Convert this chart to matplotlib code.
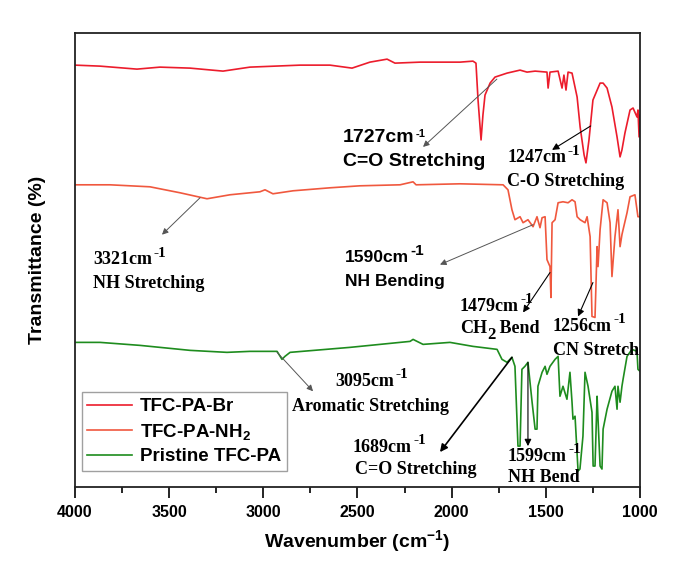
import matplotlib
matplotlib.use("Agg")
import matplotlib.pyplot as plt

plt.rcParams['font.family'] = 'Liberation Sans'
plt.rcParams['mathtext.fontset'] = 'custom'
plt.rcParams['mathtext.rm'] = 'Liberation Sans:bold'
plt.rcParams['mathtext.default'] = 'rm'

# spectra (wavenumber, stacked transmittance in a.u.)
wn_br = [4000, 3867, 3671, 3549, 3389, 3214, 3071, 2805, 2646, 2529, 2434, 2343, 2301, 2168,
         1956, 1887, 1871, 1860, 1844, 1834, 1823, 1796, 1770, 1706, 1637, 1600, 1557, 1494,
         1488, 1478, 1435, 1414, 1404, 1393, 1382, 1361, 1334, 1318, 1297, 1287, 1271, 1250,
         1212, 1196, 1175, 1149, 1122, 1106, 1096, 1080, 1053, 1037, 1016, 1011, 1005, 1000]
t_br = [423, 422, 419, 421, 420, 417, 421, 423, 423, 420, 426, 429, 425, 426,
        426, 427, 425, 388, 348, 373, 393, 405, 411, 415, 418, 416, 417, 416,
        400, 416, 417, 400, 413, 398, 416, 415, 391, 361, 333, 325, 348, 388,
        405, 405, 400, 381, 351, 331, 338, 355, 378, 380, 371, 378, 351, 373]

wn_nh2 = [4000, 3814, 3602, 3442, 3299, 3177, 3018, 2991, 2949, 2842, 2646, 2487, 2274, 2205,
          2189, 1956, 1727, 1701, 1680, 1664, 1637, 1621, 1595, 1568, 1547, 1531, 1520, 1504,
          1494, 1478, 1473, 1467, 1451, 1435, 1409, 1382, 1361, 1345, 1334, 1318, 1292, 1281,
          1265, 1255, 1239, 1228, 1223, 1212, 1196, 1175, 1159, 1149, 1133, 1117, 1106, 1096,
          1090, 1069, 1053, 1027, 1011, 1000]
t_nh2 = [303, 303, 301, 295, 289, 293, 296, 298, 294, 297, 300, 302, 303, 306,
         303, 304, 303, 298, 278, 268, 271, 265, 268, 261, 271, 260, 270, 271,
         228, 221, 190, 265, 268, 285, 286, 285, 288, 286, 271, 268, 265, 271,
         251, 171, 170, 241, 221, 258, 288, 285, 265, 211, 251, 278, 241, 253,
         258, 275, 291, 293, 271, 271]

wn_pa = [4000, 3867, 3655, 3389, 3193, 3071, 2927, 2901, 2885, 2858, 2540, 2221, 2205, 2152,
         2009, 1887, 1759, 1733, 1706, 1680, 1664, 1648, 1637, 1627, 1611, 1595, 1573, 1557,
         1547, 1542, 1520, 1504, 1494, 1478, 1451, 1435, 1425, 1409, 1388, 1372, 1361, 1356,
         1345, 1329, 1319, 1303, 1292, 1276, 1255, 1249, 1239, 1228, 1223, 1212, 1202, 1196,
         1175, 1149, 1133, 1122, 1117, 1106, 1096, 1090, 1069, 1043, 1016, 1011, 1000]
t_pa = [145, 145, 142, 137, 135, 136, 136, 128, 131, 135, 140, 146, 148, 143,
        145, 141, 138, 128, 125, 130, 121, 41, 41, 118, 121, 125, 85, 58,
        58, 101, 115, 121, 113, 121, 128, 131, 91, 101, 88, 115, 85, 68,
        71, 16, 18, 51, 115, 101, 75, 21, 21, 91, 68, 21, 18, 58,
        78, 96, 101, 78, 101, 85, 101, 108, 131, 138, 136, 118, 116]

labels = ['TFC-PA-Br', 'TFC-PA-NH$_2$', 'Pristine TFC-PA']
colors = ['#ec1c2c', '#f0583e', '#1e8c1e']

fig = plt.figure(figsize=(6.73, 5.63), dpi=100)
ax = fig.add_axes([0.1114, 0.135, 0.8396, 0.806])

ax.plot(wn_br, t_br, color=colors[0], lw=1.2, label=labels[0])
ax.plot(wn_nh2, t_nh2, color=colors[1], lw=1.2, label=labels[1])
ax.plot(wn_pa, t_pa, color=colors[2], lw=1.2, label=labels[2])

ax.set_xlim(4000, 1000)
ax.set_ylim(0, 455)
ax.set_xticks([4000, 3500, 3000, 2500, 2000, 1500, 1000])
ax.set_xticks([3750, 3250, 2750, 2250, 1750, 1250], minor=True)
ax.set_yticks([])
ax.tick_params(axis='x', which='major', direction='out', length=8, width=1.2, labelsize=11.5, pad=5)
ax.tick_params(axis='x', which='minor', direction='out', length=4.5, width=1.2)
for lb in ax.get_xticklabels():
    lb.set_fontweight('bold')
for sp in ax.spines.values():
    sp.set_linewidth(1.3)
    sp.set_color('#222222')

ax.set_xlabel('Wavenumber (cm$^{-1}$)', fontsize=14, fontweight='bold', labelpad=6)
ax.set_ylabel('Transmittance (%)', fontsize=14, fontweight='bold', labelpad=21)

leg = ax.legend(loc='lower left', bbox_to_anchor=(0.012, 0.035), fancybox=False,
                prop=dict(family='Liberation Sans', weight='bold', size=13.5),
                handlelength=2.4, handletextpad=0.4, labelspacing=0.35, borderpad=0.3,
                borderaxespad=0)
leg.get_frame().set_edgecolor('#888888')
leg.get_frame().set_linewidth(1.0)

sans = dict(family='Liberation Sans', weight='bold')
serif = dict(family='Liberation Serif', weight='bold')
grey = dict(arrowstyle='-|>', color='#555555', lw=0.7, mutation_scale=9, shrinkA=0, shrinkB=0)
black = dict(arrowstyle='-|>', color='black', lw=0.8, mutation_scale=10, shrinkA=0, shrinkB=0)


def label(x, y, main, second, size, font, subsize, top=False):
    t = ax.text(x, y, main, fontsize=size, va='center', ha='left', **font)
    if top:
        ax.annotate('-1', xy=(1, 1), xycoords=t, xytext=(1, 0), textcoords='offset points',
                    fontsize=subsize, va='top', ha='left', **font)
    else:
        ax.annotate('-1', xy=(1, 0.5), xycoords=t, xytext=(1, 0), textcoords='offset points',
                    fontsize=subsize, va='bottom', ha='left', **font)
    if second:
        ax.text(x, y - 24, second, fontsize=size, va='center', ha='left', **font)


# 1727 C=O (Br)
label(2577, 350, '1727cm', 'C=O Stretching', 14, sans, 8, top=True)
ax.annotate('', xy=(2152, 341), xytext=(1760, 409), arrowprops=grey)

# 1247 C-O (Br)
label(1706, 330, '1247cm', 'C-O Stretching', 13, serif, 11)
ax.annotate('', xy=(1467, 338), xytext=(1262, 362), arrowprops=black)

# 3321 NH stretching
label(3904, 228, '3321cm', 'NH Stretching', 13, serif, 11)
ax.annotate('', xy=(3538, 253), xytext=(3336, 290), arrowprops=grey)

# 1590 NH bending
label(2566, 230, '1590cm', 'NH Bending', 12.6, sans, 11)
ax.annotate('', xy=(2062, 223), xytext=(1568, 263), arrowprops=grey)

# 1479 CH2 bend
label(1956, 181, '1479cm', None, 13, serif, 11)
ch = ax.text(1956, 159, 'CH', fontsize=13, va='center', ha='left', **serif)
two = ax.annotate('2', xy=(1, 0.1), xycoords=ch, fontsize=12, va='center', ha='left', **serif)
ax.annotate(' Bend', xy=(1, 0.5), xycoords=(two, ch), fontsize=13, va='center', ha='left', **serif)
ax.annotate('', xy=(1621, 175), xytext=(1478, 215), arrowprops=black)

# 1256 CN stretch
label(1462, 161, '1256cm', 'CN Stretch', 13, serif, 11)
ax.annotate('', xy=(1329, 171), xytext=(1250, 205), arrowprops=black)

# 3095 aromatic
label(2619, 106, '3095cm', None, 13, serif, 11)
ax.text(2848, 81, 'Aromatic Stretching', fontsize=13, va='center', ha='left', **serif)
ax.annotate('', xy=(2736, 96), xytext=(2927, 135), arrowprops=grey)

# 1689 C=O (pristine)
label(2524, 40, '1689cm', None, 13, serif, 11)
ax.text(2513, 18, 'C=O Stretching', fontsize=13, va='center', ha='left', **serif)
ax.annotate('', xy=(2062, 35), xytext=(1680, 130),
            arrowprops=dict(arrowstyle='-|>', color='black', lw=1.2, mutation_scale=11,
                            shrinkA=0, shrinkB=0))

# 1599 NH bend
label(1701, 31, '1599cm', None, 13, serif, 11)
ax.text(1701, 10, 'NH Bend', fontsize=13, va='center', ha='left', **serif)
ax.annotate('', xy=(1595, 41), xytext=(1595, 125), arrowprops=black)

fig.savefig('out.png', dpi=100)
